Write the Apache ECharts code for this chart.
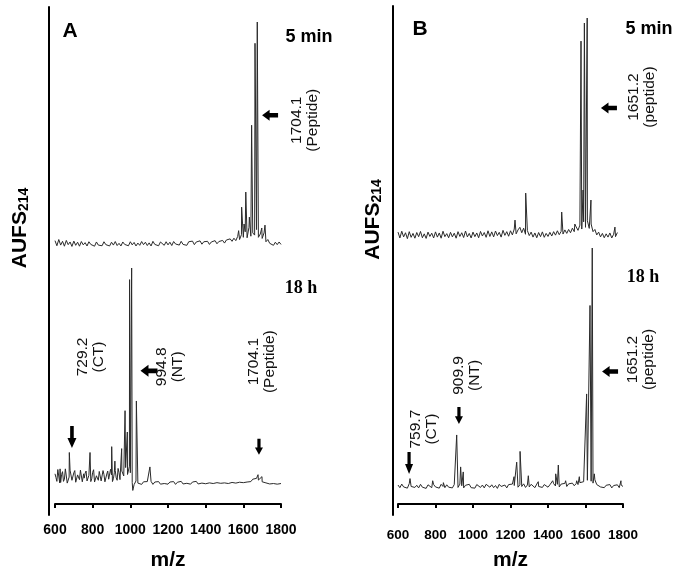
<!DOCTYPE html>
<html>
<head>
<meta charset="utf-8">
<script src="https://cdn.jsdelivr.net/npm/echarts@6/dist/echarts.min.js"></script>
<style>
html, body { margin: 0; padding: 0; background: #fff; }
#main { width: 680px; height: 572px; }
</style>
</head>
<body>
<div id="main"></div>
<script>
// m/z axis
var mzMin = 600, mzMax = 1800, mzTick = 200;
// baseline noise is read every 10 m/z starting at 600
var mzStep = 10;

// ---- panel A, 5 min ----
var noiseA5 = [
  1.5, -0.8, 2.0, -0.5, 1.2, -1.0, 1.6, -0.3, 0.9, -1.1,
  1.3, -0.6, 0.8, -1.0, 1.1, -0.4, 0.6, -0.9, 1.0, -0.2,
  0.7, -1.0, 0.9, -0.5, 0.4, -0.8, 1.0, -0.3, 0.6, -0.9,
  0.8, -0.5, 1.1, -0.7, 0.3, -0.9, 0.9, -0.2, 0.5, -0.8,
  1.0, -0.4, 0.7, -0.9, 0.4, -0.6, 1.1, -0.3, 0.8, -0.7,
  0.5, -0.9, 1.2, -0.2, 0.6, -0.8, 0.9, 0.1, -0.6, 1.0,
  -0.4, 0.8, -0.7, 1.1, 0.0, 0.9, -0.5, 1.2, -0.2, 0.7,
  -0.6, 1.0, 0.2, 1.3, -0.3, 0.9, 0.4, 1.4, -0.1, 1.0,
  0.3, 1.2, -0.2, 0.9, 0.5, 1.5, 0.1, 1.1, 0.6, 1.6,
  0.4, 1.8, 0.9, 2.3, 1.2, 2.6, 1.5, 3.4, 2.0, 4.2,
  3.0, 5.5, 2.8, 7.5, 3.5, 5.0, 4.0, 6.5, 3.0, 4.5,
  2.5, 5.0, 1.0, 2.0, 0.3, 1.2, -0.6, 0.8, -0.3, 0.9,
  -0.2
];
var peaksA5 = [
  [1575, 6.0], [1591, 16.6], [1604, 9.0], [1613, 23.4], [1632, 12.1],
  [1644, 53.5], [1662, 90.4], [1674, 100], [1698, 7.2], [1715, 8.5]
];

// ---- panel A, 18 h ----
var noiseA18 = [
  4.5, 1.0, 6.0, 0.5, 5.5, 2.0, 3.5, 0.8, 6.2, 1.5,
  5.0, 0.6, 4.0, 1.8, 5.5, 0.4, 4.8, 1.2, 3.8, 0.9,
  5.2, 0.7, 3.6, 1.5, 4.9, 0.5, 4.2, 1.0, 5.8, 1.8,
  4.0, 2.2, 6.0, 1.5, 5.0, 2.5, 6.5, 3.0, 7.5, 4.0,
  5.0, 0.5, -0.5, 1.2, 0.2, 1.0, -0.4, 0.8, 0.1, 0.9,
  0.3, 1.0, -0.4, 0.7, 0.2, 0.9, -0.3, 0.6, 0.0, 0.8,
  -0.3, 0.7, 0.1, 0.9, -0.4, 0.6, 0.2, 1.0, -0.2, 0.5,
  0.1, 0.9, -0.3, 0.7, 0.3, 1.0, -0.2, 0.6, 0.2, 0.9,
  -0.1, 0.8, 0.3, 1.1, 0.0, 0.7, 0.4, 1.2, 0.1, 0.9,
  0.3, 1.1, 0.0, 0.8, 0.5, 1.2, 0.2, 1.0, 0.6, 1.3,
  0.4, 1.2, 0.7, 1.5, 0.9, 2.0, 1.2, 2.4, 1.6, 1.2,
  0.8, 1.4, 0.3, 0.8, -0.2, 0.6, 0.0, 0.5, -0.3, 0.4,
  0.0
];
// the 600-1000 band of the 18 h trace is denser: extra readings at 605, 615 ... 995
var noiseA18dense = [
  2.8, 6.5, 0.3, 4.2, 1.0, 6.8, 0.2, 3.0, 5.5, 0.6,
  6.0, 1.5, 3.2, 6.2, 0.8, 2.5, 5.8, 0.3, 4.6, 2.2,
  6.4, 0.5, 3.0, 5.6, 1.2, 6.0, 0.8, 4.4, 2.0, 6.6,
  0.9, 5.0, 2.6, 7.0, 1.8, 5.8, 3.5, 7.4, 4.2, 8.0
];
var peaksA18 = [
  [627, 6.8], [676, 14.4], [752, 4.5], [786, 14.4], [839, 5.9],
  [901, 17.1], [918, 10.4], [954, 16.2], [972, 33.8], [984, 23.9],
  [996, 94.6], [1007, 100], [1013, -3.2], [1032, 38.3], [1104, 7.7],
  [1678, 4.1], [1699, 3.2]
];

// ---- panel B, 5 min ----
var noiseB5 = [
  1.8, -0.9, 2.2, -0.4, 1.5, -1.2, 2.0, -0.6, 1.2, -1.0,
  1.6, -0.3, 2.1, -0.8, 1.0, -1.1, 1.8, -0.2, 1.3, -0.9,
  1.9, -0.5, 1.4, -1.0, 2.2, -0.3, 1.1, -0.8, 1.7, -0.4,
  1.3, -1.0, 2.0, -0.2, 1.5, -0.7, 2.3, -0.4, 1.2, -0.9,
  1.8, -0.3, 1.4, -0.8, 2.1, 0.0, 1.6, -0.6, 2.4, -0.2,
  1.9, -0.4, 2.3, 0.2, 1.7, -0.5, 2.6, 0.3, 2.0, -0.1,
  2.4, 0.5, 3.2, 1.0, 2.8, 4.0, 1.5, 3.6, 0.8, 2.5,
  0.2, 1.8, -0.5, 1.4, -0.8, 1.6, -0.3, 1.9, -0.6, 1.2,
  -0.2, 1.7, 0.0, 2.0, 0.4, 2.4, 0.6, 2.1, 0.9, 2.8,
  1.2, 3.0, 1.5, 3.6, 2.0, 4.2, 2.6, 5.0, 3.2, 6.5,
  4.0, 7.0, 3.5, 5.5, 2.0, 3.0, 0.5, 1.8, -0.4, 1.2,
  -0.8, 1.0, -0.5, 1.4, -0.9, 0.8, -0.3, 1.6
];
var peaksB5 = [
  [1224, 7.3], [1281, 19.7], [1473, 11.0], [1543, 5.5], [1576, 89.4],
  [1587, 21.1], [1594, 97.7], [1609, 100], [1629, 16.5], [1757, 4.1]
];

// ---- panel B, 18 h ----
var noiseB18 = [
  0.6, -0.5, 1.0, -0.2, 0.4, -0.7, 1.2, 0.0, 0.8, -0.4,
  0.5, -0.6, 0.9, -0.3, 0.3, -0.8, 0.7, 0.1, -0.5, 0.8,
  -0.2, 0.6, -0.7, 0.9, 0.0, -0.5, 0.7, -0.3, 0.4, -0.6,
  0.8, 0.2, -0.4, 1.0, 0.3, -0.6, 0.5, -0.2, 0.9, -0.5,
  0.3, -0.7, 0.8, 0.0, -0.4, 0.6, -0.6, 0.9, 0.1, -0.3,
  0.7, -0.5, 0.4, -0.8, 0.9, 0.0, -0.4, 0.6, -0.6, 0.8,
  0.2, 1.0, 0.4, 0.9, -0.3, 0.7, 0.0, 1.1, -0.4, 0.6,
  -0.2, 0.9, 0.3, -0.5, 1.0, 0.0, 0.6, -0.4, 0.8, 0.1,
  -0.3, 0.7, 0.5, 1.2, 0.2, 0.9, -0.2, 1.0, 0.4, 1.3,
  0.0, 1.1, 0.6, 1.4, 0.3, 1.2, 0.8, 1.6, 1.0, 2.0,
  1.5, 2.6, 1.8, 2.2, 1.4, 2.8, 0.8, 1.2, -0.2, 0.6,
  -0.5, 0.5, -0.3, 0.8, -0.6, 0.4, -0.2, 0.7, -0.5, 0.6,
  0.0
];
var peaksB18 = [
  [664, 3.3], [785, 2.4], [842, 1.6], [913, 21.6], [934, 8.2],
  [948, 6.1], [1219, 4.1], [1233, 10.2], [1251, 14.7], [1295, 4.5],
  [1348, 2.0], [1425, 2.4], [1441, 5.3], [1455, 9.0], [1494, 2.4],
  [1553, 2.4], [1567, 4.1], [1606, 38.8], [1624, 75.9], [1636, 100],
  [1647, 5.3], [1789, 2.4]
];

// noise readings (each list with its first m/z) + peak list, merged in m/z order
function spectrum(sets, peaks) {
  var pts = [];
  sets.forEach(function (s) {
    s[1].forEach(function (v, i) { pts.push([s[0] + i * mzStep, v]); });
  });
  pts = pts.concat(peaks);
  pts.sort(function (a, b) { return a[0] - b[0]; });
  return pts;
}

var arrowDown = 'path://M3,0L7,0L7,12L10,12L5,22L0,12L3,12Z';
var arrowLeft = 'path://M0,5L8,0L8,3L17,3L17,7L8,7L8,10Z';

// dx, dy: where the (rotated) text block sits on screen, relative to the arrow
function note(mz, y, sym, size, text, dx, dy) {
  return {
    coord: [mz, y],
    symbol: sym,
    symbolSize: size,
    itemStyle: { color: '#000' },
    label: {
      show: true,
      formatter: text,
      position: 'inside',
      offset: [-dy, dx],   // offset is applied in the rotated frame
      rotate: 90,
      align: 'center',
      verticalAlign: 'middle',
      fontFamily: 'Liberation Sans',
      fontSize: 15.5,
      lineHeight: 16,
      color: '#111'
    }
  };
}

function specSeries(idx, data, notes) {
  return {
    type: 'line',
    xAxisIndex: idx,
    yAxisIndex: idx,
    data: data,
    symbol: 'none',
    silent: true,
    lineStyle: { color: '#2a2a2a', width: 1 },
    markPoint: { silent: true, data: notes }
  };
}

var font = 'Liberation Sans';

function frameY(idx, gap, shift) {
  return {
    gridIndex: idx, type: 'value', min: 0, max: 1,
    axisLine: { show: true, lineStyle: { color: '#000', width: 2 } },
    axisTick: { show: false }, axisLabel: { show: false }, splitLine: { show: false },
    name: '{a|AUFS}{s|214}',
    nameLocation: 'middle',
    nameRotate: 90,
    nameGap: gap,
    nameTextStyle: {
      padding: [0, 0, 0, shift],
      rich: {
        a: { fontFamily: font, fontWeight: 'bold', fontSize: 21, color: '#000' },
        s: { fontFamily: font, fontWeight: 'bold', fontSize: 14, color: '#000', verticalAlign: 'bottom' }
      }
    }
  };
}
function hiddenX(idx) {
  return { gridIndex: idx, type: 'value', min: mzMin, max: mzMax, show: false };
}
function hiddenY(idx, lo) {
  return { gridIndex: idx, type: 'value', min: lo, max: 100, show: false };
}
function mzAxis(idx, margin, size) {
  return {
    gridIndex: idx, type: 'value', min: mzMin, max: mzMax, interval: mzTick,
    axisLine: { onZero: false, lineStyle: { color: '#000', width: 2 } },
    axisTick: { length: 4, lineStyle: { color: '#000', width: 2 } },
    axisLabel: {
      color: '#000', fontFamily: font, fontWeight: 'bold', fontSize: size, margin: margin,
      formatter: function (v) { return String(v); }
    },
    splitLine: { show: false },
    name: 'm/z', nameLocation: 'middle', nameGap: 46,
    nameTextStyle: { color: '#000', fontFamily: font, fontWeight: 'bold', fontSize: 21 }
  };
}

function txt(x, y, s, f) {
  return { type: 'text', x: x, y: y, silent: true,
    style: { text: s, font: f, fill: '#000', align: 'center', verticalAlign: 'middle' } };
}

var chart = echarts.init(document.getElementById('main'));
chart.setOption({
  animation: false,
  backgroundColor: '#fff',
  grid: [
    { left: 49, top: 7, width: 100, height: 508 },
    { left: 55, top: 22, width: 226, height: 235.3 },
    { left: 55, top: 268, width: 226, height: 243 },
    { left: 393, top: 6, width: 100, height: 509 },
    { left: 398, top: 18, width: 225, height: 231.1 },
    { left: 398, top: 248, width: 225, height: 263 }
  ],
  xAxis: [
    { gridIndex: 0, type: 'value', min: 0, max: 1, show: false },
    hiddenX(1),
    mzAxis(2, 19, 14),
    { gridIndex: 3, type: 'value', min: 0, max: 1, show: false },
    hiddenX(4),
    mzAxis(5, 24, 13.5)
  ],
  yAxis: [
    frameY(0, 18, 66),
    hiddenY(1, -6),
    hiddenY(2, -9.5),
    frameY(3, 9, 82),
    hiddenY(4, -6),
    hiddenY(5, -7.35)
  ],
  series: [
    specSeries(1, spectrum([[600, noiseA5]], peaksA5), [
      note(1742, 58.0, arrowLeft, [16, 11], '1704.1\n(Peptide)', 35, 5)
    ]),
    specSeries(2, spectrum([[600, noiseA18], [605, noiseA18dense]], peaksA18), [
      note(690, 21.6, arrowDown, [9, 22], '729.2\n(CT)', 19, -80),
      note(1099, 52.3, arrowLeft, [17, 12], '994.8\n(NT)', 21, -4),
      note(1683, 17.1, arrowDown, [8, 16], '1704.1\n(Peptide)', 3, -85)
    ]),
    specSeries(4, spectrum([[600, noiseB5]], peaksB5), [
      note(1725, 58.7, arrowLeft, [16, 11], '1651.2\n(peptide)', 33, -11)
    ]),
    specSeries(5, spectrum([[600, noiseB18]], peaksB18), [
      note(659, 9.8, arrowDown, [8, 22], '759.7\n(CT)', 15, -34),
      note(925, 29.8, arrowDown, [8, 17], '909.9\n(NT)', 8, -40),
      note(1731, 48.2, arrowLeft, [16, 11], '1651.2\n(peptide)', 31, -12)
    ])
  ],
  graphic: [
    txt(70, 31, 'A', 'bold 21px "Liberation Sans"'),
    txt(420, 29, 'B', 'bold 21px "Liberation Sans"'),
    txt(309, 37, '5 min', 'bold 18px "Liberation Sans"'),
    txt(649, 29, '5 min', 'bold 18px "Liberation Sans"'),
    txt(301, 288, '18 h', 'bold 18px "Liberation Serif"'),
    txt(643, 277, '18 h', 'bold 18px "Liberation Serif"')
  ]
});
</script>
</body>
</html>
